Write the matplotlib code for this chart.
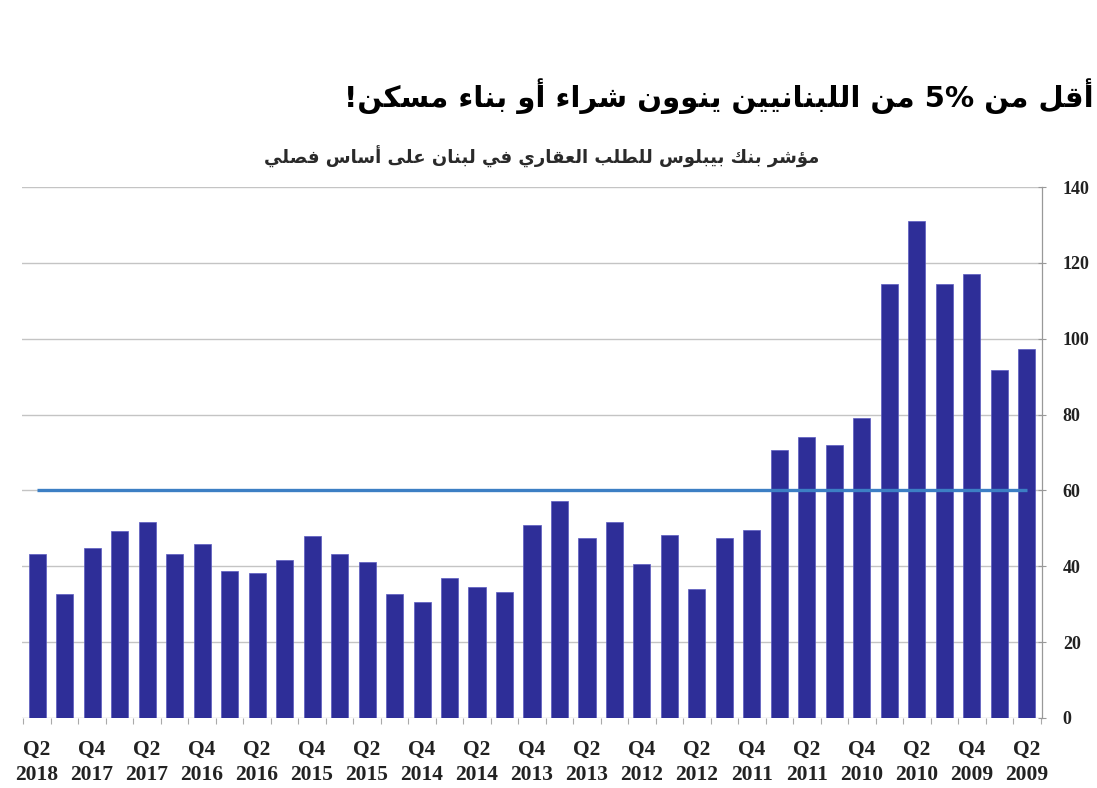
import matplotlib
matplotlib.use("Agg")
import matplotlib.pyplot as plt
from matplotlib.ticker import FixedLocator

# ---------------- data (left to right as in the reference) ----------------
quarter_labels = ["Q2\n2018", "Q4\n2017", "Q2\n2017", "Q4\n2016", "Q2\n2016", "Q4\n2015",
                  "Q2\n2015", "Q4\n2014", "Q2\n2014", "Q4\n2013", "Q2\n2013", "Q4\n2012",
                  "Q2\n2012", "Q4\n2011", "Q2\n2011", "Q4\n2010", "Q2\n2010", "Q4\n2009",
                  "Q2\n2009"]
index_values = [43.3, 32.7, 44.7, 49.3, 51.6, 43.3, 46.0, 38.8, 38.3, 41.7, 48.1, 43.3,
                41.0, 32.7, 30.5, 36.8, 34.6, 33.2, 50.9, 57.3, 47.5, 51.6, 40.5, 48.3,
                34.1, 47.5, 49.6, 70.6, 74.1, 71.9, 79.1, 114.3, 131.0, 114.3, 117.0,
                91.8, 97.3]
reference_level = 60
y_ticks = [0, 20, 40, 60, 80, 100, 120, 140]

title_text = "أقل من 5% من اللبنانيين ينوون شراء أو بناء مسكن!"
subtitle_text = "مؤشر بنك بيبلوس للطلب العقاري في لبنان على أساس فصلي"

# ---------------- minimal Arabic shaping (matplotlib has no RTL shaping) ----------------
FORMS = {
    '\u0621': ('\uFE80', None, None, None),
    '\u0622': ('\uFE81', '\uFE82', None, None),
    '\u0623': ('\uFE83', '\uFE84', None, None),
    '\u0624': ('\uFE85', '\uFE86', None, None),
    '\u0625': ('\uFE87', '\uFE88', None, None),
    '\u0626': ('\uFE89', '\uFE8A', '\uFE8B', '\uFE8C'),
    '\u0627': ('\uFE8D', '\uFE8E', None, None),
    '\u0628': ('\uFE8F', '\uFE90', '\uFE91', '\uFE92'),
    '\u0629': ('\uFE93', '\uFE94', None, None),
    '\u062A': ('\uFE95', '\uFE96', '\uFE97', '\uFE98'),
    '\u062B': ('\uFE99', '\uFE9A', '\uFE9B', '\uFE9C'),
    '\u062C': ('\uFE9D', '\uFE9E', '\uFE9F', '\uFEA0'),
    '\u062D': ('\uFEA1', '\uFEA2', '\uFEA3', '\uFEA4'),
    '\u062E': ('\uFEA5', '\uFEA6', '\uFEA7', '\uFEA8'),
    '\u062F': ('\uFEA9', '\uFEAA', None, None),
    '\u0630': ('\uFEAB', '\uFEAC', None, None),
    '\u0631': ('\uFEAD', '\uFEAE', None, None),
    '\u0632': ('\uFEAF', '\uFEB0', None, None),
    '\u0633': ('\uFEB1', '\uFEB2', '\uFEB3', '\uFEB4'),
    '\u0634': ('\uFEB5', '\uFEB6', '\uFEB7', '\uFEB8'),
    '\u0635': ('\uFEB9', '\uFEBA', '\uFEBB', '\uFEBC'),
    '\u0636': ('\uFEBD', '\uFEBE', '\uFEBF', '\uFEC0'),
    '\u0637': ('\uFEC1', '\uFEC2', '\uFEC3', '\uFEC4'),
    '\u0638': ('\uFEC5', '\uFEC6', '\uFEC7', '\uFEC8'),
    '\u0639': ('\uFEC9', '\uFECA', '\uFECB', '\uFECC'),
    '\u063A': ('\uFECD', '\uFECE', '\uFECF', '\uFED0'),
    '\u0641': ('\uFED1', '\uFED2', '\uFED3', '\uFED4'),
    '\u0642': ('\uFED5', '\uFED6', '\uFED7', '\uFED8'),
    '\u0643': ('\uFED9', '\uFEDA', '\uFEDB', '\uFEDC'),
    '\u0644': ('\uFEDD', '\uFEDE', '\uFEDF', '\uFEE0'),
    '\u0645': ('\uFEE1', '\uFEE2', '\uFEE3', '\uFEE4'),
    '\u0646': ('\uFEE5', '\uFEE6', '\uFEE7', '\uFEE8'),
    '\u0647': ('\uFEE9', '\uFEEA', '\uFEEB', '\uFEEC'),
    '\u0648': ('\uFEED', '\uFEEE', None, None),
    '\u0649': ('\uFEEF', '\uFEF0', None, None),
    '\u064A': ('\uFEF1', '\uFEF2', '\uFEF3', '\uFEF4'),
    # lam-alef ligatures (right-joining)
    'LA': ('\uFEFB', '\uFEFC', None, None),
    'LAh': ('\uFEF7', '\uFEF8', None, None),
    'LAk': ('\uFEF9', '\uFEFA', None, None),
    'LAm': ('\uFEF5', '\uFEF6', None, None),
}
LAM_ALEF = {'\u0627': 'LA', '\u0623': 'LAh', '\u0625': 'LAk', '\u0622': 'LAm'}


def shape_word(word):
    units = []
    i = 0
    while i < len(word):
        c = word[i]
        if c == '\u0644' and i + 1 < len(word) and word[i + 1] in LAM_ALEF:
            units.append(LAM_ALEF[word[i + 1]])
            i += 2
        else:
            units.append(c)
            i += 1
    out = []
    for k, u in enumerate(units):
        if u not in FORMS:
            out.append(u)
            continue
        iso, fin, ini, med = FORMS[u]
        prev = units[k - 1] if k > 0 else None
        nxt = units[k + 1] if k + 1 < len(units) else None
        join_prev = (prev in FORMS and FORMS[prev][2] is not None and fin is not None)
        join_next = (nxt in FORMS and ini is not None and FORMS[nxt][1] is not None)
        if join_prev and join_next:
            out.append(med)
        elif join_prev:
            out.append(fin)
        elif join_next:
            out.append(ini)
        else:
            out.append(iso)
    return out


def rtl(text):
    tokens = text.split(' ')
    vis = []
    for t in tokens:
        if any('\u0600' <= ch <= '\u06FF' for ch in t):
            vis.append(''.join(reversed(shape_word(t))))
        else:
            vis.append(t)
    return ' '.join(reversed(vis))


# ---------------- figure ----------------
W, H = 1097, 788
fig = plt.figure(figsize=(W / 100, H / 100), dpi=100)
fig.patch.set_facecolor('white')

ax = fig.add_axes([22 / W, 1 - 718 / H, (1042 - 22) / W, (718 - 187) / H])
x = list(range(len(index_values)))

ax.set_axisbelow(True)
ax.yaxis.grid(True, color='#c4c4c4', linewidth=1.0)
ax.bar(x, index_values, width=0.62, color='#2e2e98', edgecolor='#5a5ac0', linewidth=0.5,
       zorder=2)
ax.plot([x[0], x[-1]], [reference_level, reference_level], color='#3c7fc4', linewidth=2.4,
        solid_capstyle='butt', zorder=3)

ax.set_xlim(-0.55, len(index_values) - 1 + 0.55)
ax.set_ylim(0, 140)

# y axis on right
ax.yaxis.tick_right()
ax.set_yticks(y_ticks)
ax.set_yticklabels([str(v) for v in y_ticks], fontfamily='Liberation Serif',
                   fontweight='bold', fontsize=13, color='#222222')
ax.tick_params(axis='y', direction='inout', length=6, width=0.8, color='#999999', pad=12)

# x axis
ax.set_xticks(x[::2])
ax.set_xticklabels(quarter_labels, fontfamily='Liberation Serif', fontweight='bold',
                   fontsize=15.5, color='#222222', linespacing=1.3)
ax.tick_params(axis='x', which='major', length=0, pad=16)
ax.xaxis.set_minor_locator(FixedLocator([k - 0.5 for k in range(len(index_values) + 1)]))
ax.tick_params(axis='x', which='minor', direction='out', length=4, width=0.8, color='#aaaaaa')

for s in ['top', 'left', 'bottom']:
    ax.spines[s].set_visible(False)
ax.spines['right'].set_color('#999999')
ax.spines['right'].set_linewidth(0.9)

# titles
fig.text(1094 / W, 1 - 96 / H, rtl(title_text), ha='right', va='center',
         fontfamily='DejaVu Sans', fontweight='bold', fontsize=21, color='black')
fig.text(542 / W, 1 - 157 / H, rtl(subtitle_text), ha='center', va='center',
         fontfamily='DejaVu Sans', fontweight='bold', fontsize=13, color='#2a2a2a')

fig.savefig('out.png', dpi=100, facecolor='white')
